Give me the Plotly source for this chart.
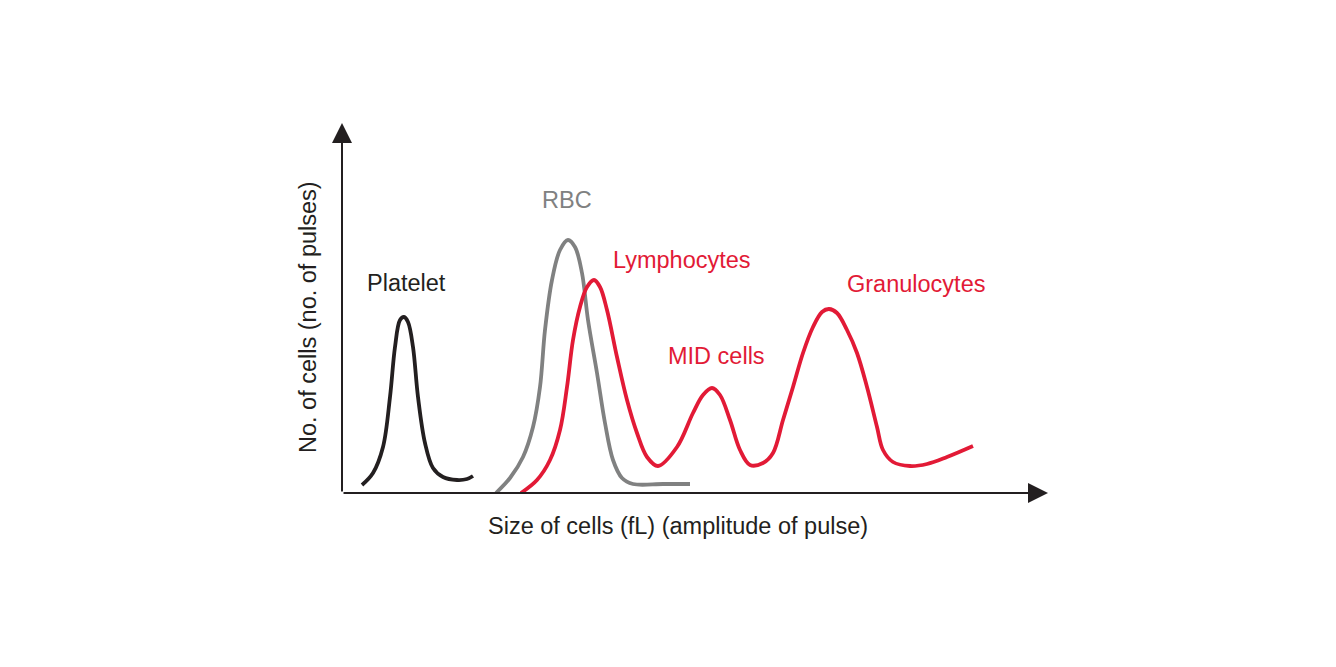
import plotly.graph_objects as go

# curve samples (x = size, y = count), arbitrary units
platelet_x = [20, 31, 41, 48, 53, 58, 62, 66, 71, 76, 83, 91, 101, 115, 125, 131]
platelet_y = [8, 20, 46, 96, 146, 173, 176, 171, 146, 96, 50, 25, 16, 13, 14, 17]

rbc_x = [154, 168, 181, 191, 198, 203, 210, 218, 226, 233, 240, 246, 255, 263, 271, 280, 291, 321, 348]
rbc_y = [0, 15, 36, 66, 106, 163, 213, 243, 253, 246, 220, 173, 120, 70, 33, 15, 9, 9, 9]

wbc_x = [179, 195, 208, 218, 225, 231, 238, 245, 252, 258, 265, 275, 285, 295, 305, 316,
         335, 351, 361, 370, 378, 388, 398, 408,
         421, 431, 441, 451, 461, 471, 480, 487, 495, 505, 515, 525, 535, 541, 551, 568, 585, 605, 631]
wbc_y = [0, 13, 33, 63, 106, 153, 186, 206, 213, 206, 183, 136, 93, 60, 36, 27,
         46, 80, 98, 105, 98, 73, 43, 28,
         30, 40, 73, 106, 140, 166, 181, 184, 180, 163, 140, 106, 66, 43, 31, 27, 29, 36, 47]

# labels and where they sit
label_text = ["Platelet", "RBC", "Lymphocytes", "MID cells", "Granulocytes"]
label_x = [64, 225, 340, 374, 574]
label_y = [210, 293, 233, 137, 209]
label_color = ["#231f20", "#808181", "#e21a36", "#e21a36", "#e21a36"]

x_title = "Size of cells (fL) (amplitude of pulse)"
y_title = "No. of cells (no. of pulses)"

BLACK = "#231f20"
GREY = "#808181"
RED = "#e21a36"
FONT = "Liberation Sans, Arial, Helvetica, sans-serif"

fig = go.Figure()

for xs, ys, col in [(platelet_x, platelet_y, BLACK), (rbc_x, rbc_y, GREY), (wbc_x, wbc_y, RED)]:
    fig.add_trace(go.Scatter(
        x=xs, y=ys, mode="lines",
        line=dict(color=col, width=3.8, shape="spline", smoothing=1.0),
        cliponaxis=False, hoverinfo="skip", showlegend=False,
    ))

# axes drawn as arrows
fig.add_annotation(x=706, y=0, ax=0, ay=0, xref="x", yref="y", axref="x", ayref="y",
                   showarrow=True, arrowhead=2, arrowsize=2.0, arrowwidth=2,
                   arrowcolor=BLACK, text="")
fig.add_annotation(x=0, y=370, ax=0, ay=0, xref="x", yref="y", axref="x", ayref="y",
                   showarrow=True, arrowhead=2, arrowsize=2.0, arrowwidth=2,
                   arrowcolor=BLACK, text="")

for t, lx, ly, c in zip(label_text, label_x, label_y, label_color):
    fig.add_annotation(x=lx, y=ly, text=t, showarrow=False, xanchor="center", yanchor="middle",
                       font=dict(family=FONT, size=23.5, color=c))

# axis titles (anchored inside the range, pushed out with shifts)
fig.add_annotation(x=336, y=0, yshift=-33, text=x_title, showarrow=False,
                   xanchor="center", yanchor="middle",
                   font=dict(family=FONT, size=23.5, color=BLACK))
fig.add_annotation(x=0, y=176, xshift=-34, text=y_title, showarrow=False, textangle=-90,
                   xanchor="center", yanchor="middle",
                   font=dict(family=FONT, size=23.5, color=BLACK))

fig.update_xaxes(range=[0, 710], visible=False, fixedrange=True)
fig.update_yaxes(range=[0, 375], visible=False, fixedrange=True)
# page body has an 8px margin, so margins are pulled in by 8
fig.update_layout(
    width=1336, height=667,
    margin=dict(l=334, r=292, t=110, b=182),
    plot_bgcolor="white", paper_bgcolor="white",
)

fig.write_html("out.html")
